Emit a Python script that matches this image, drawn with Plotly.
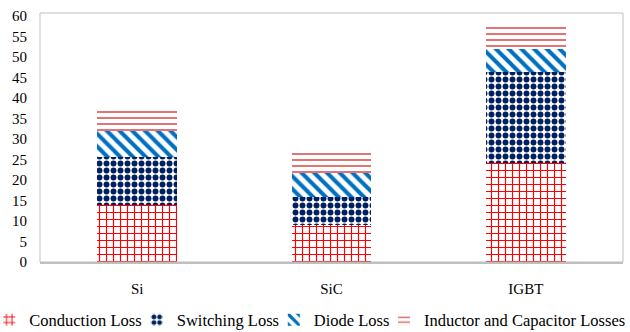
import plotly.graph_objects as go

# Device technologies compared
devices = ["Si", "SiC", "IGBT"]

# Loss components (stacked), in the same order as devices
conduction_loss = [13.9, 9.0, 24.1]
switching_loss = [11.7, 6.9, 22.2]
diode_loss = [6.4, 5.8, 5.7]
inductor_capacitor_losses = [5.6, 5.6, 6.2]

y_ticks = list(range(0, 61, 5))

# name, values, pattern colour, pattern shape, pattern size, solidity, legend id, legend x
series = [
    ("Conduction Loss", conduction_loss, "#FF0000", "+", 7, 0.3, "legend", -0.087),
    ("Switching Loss", switching_loss, "#002060", ".", 7, 0.55, "legend2", 0.166),
    ("Diode Loss", diode_loss, "#0070C0", "\\", 9, 0.45, "legend3", 0.401),
    ("Inductor and Capacitor Losses", inductor_capacitor_losses, "#E06464", "-", 6, 0.3,
     "legend4", 0.590),
]

font_family = "Liberation Serif, Times New Roman, serif"

fig = go.Figure()
legends = {}
for name, values, color, shape, size, solidity, legend_id, lx in series:
    fig.add_trace(go.Bar(
        x=devices,
        y=values,
        name=name,
        legend=legend_id,
        marker=dict(
            color="white",
            line=dict(width=0),
            pattern=dict(shape=shape, fgcolor=color, bgcolor="white",
                         size=size, solidity=solidity, fillmode="replace"),
        ),
    ))
    legends[legend_id] = dict(
        orientation="h",
        x=lx,
        xanchor="left",
        y=-0.233,
        yanchor="middle",
        bgcolor="rgba(0,0,0,0)",
        font=dict(family=font_family, size=16.5, color="black"),
        itemwidth=30,
    )

fig.update_layout(
    barmode="stack",
    bargap=0.59,
    width=630,
    height=332,
    margin=dict(l=40, r=7, t=13, b=70, autoexpand=False),
    paper_bgcolor="white",
    plot_bgcolor="white",
    font=dict(family=font_family, size=15, color="black"),
    showlegend=True,
    shapes=[dict(type="rect", xref="paper", yref="paper", x0=0, x1=1, y0=0, y1=1,
                 line=dict(color="#BFBFBF", width=1), layer="above")],
    **legends,
)

fig.update_xaxes(
    showgrid=False,
    showline=True,
    linecolor="#BFBFBF",
    linewidth=2,
    ticks="",
    ticklabelstandoff=12,
    tickfont=dict(family=font_family, size=15),
)
fig.update_yaxes(
    range=[0, 60.7],
    tickvals=y_ticks,
    showgrid=False,
    zeroline=False,
    showline=False,
    ticks="",
    ticklabelstandoff=12,
    tickfont=dict(family=font_family, size=15),
)

fig.write_html("out.html")
